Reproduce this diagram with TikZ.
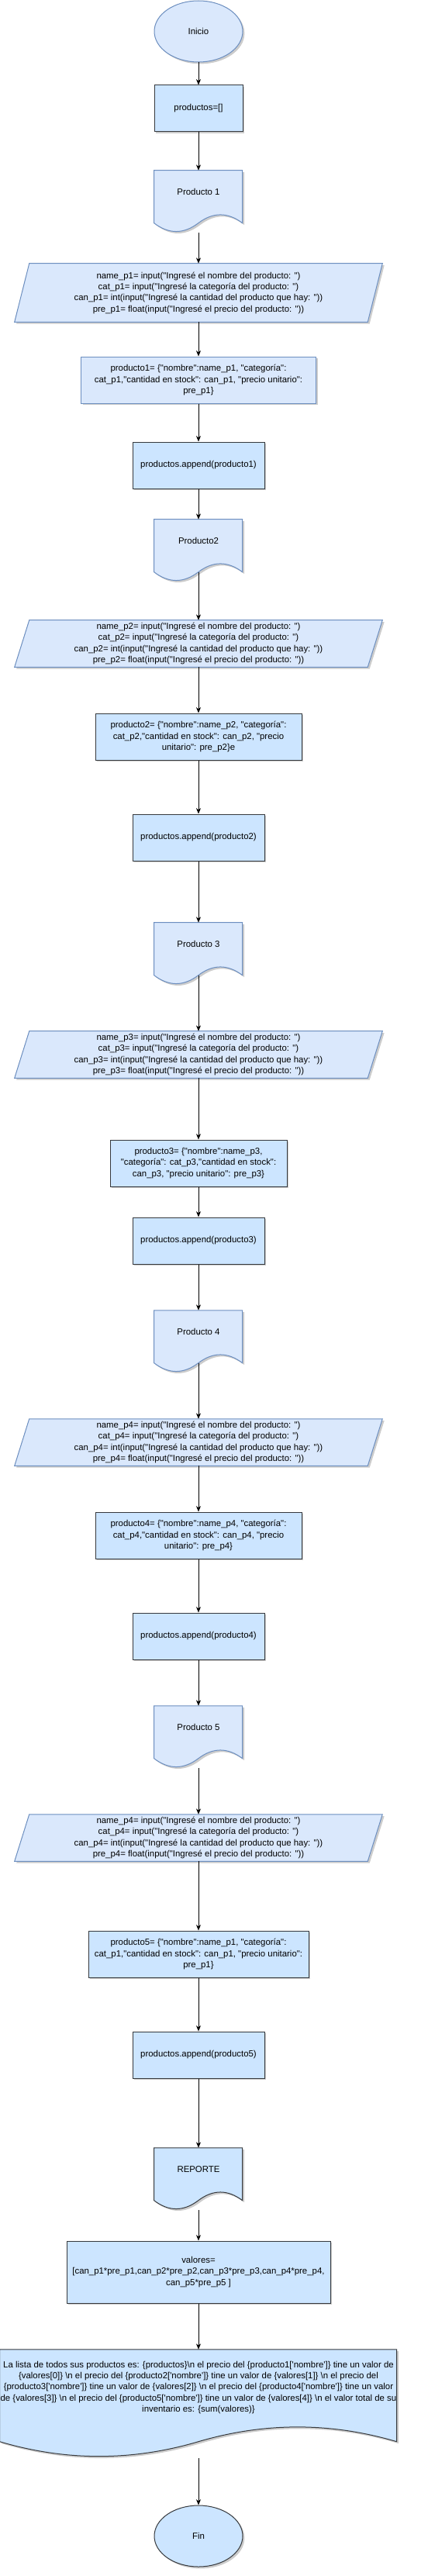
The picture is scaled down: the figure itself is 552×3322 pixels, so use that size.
\documentclass[tikz,border=0pt]{standalone}
\usepackage{fontspec}
\newfontfamily\dfont{Liberation Sans}[Ligatures=TeXOff]
\usetikzlibrary{shapes.geometric,arrows.meta,calc,shadows}
\pgfdeclarelayer{bg}
\pgfsetlayers{bg,main}
\definecolor{lfill}{HTML}{DAE8FC}
\definecolor{lline}{HTML}{6C8EBF}
\definecolor{dfill}{HTML}{CCE5FF}
\definecolor{dline}{HTML}{36393D}
\tikzset{
  shad/.style={drop shadow={shadow xshift=1.8pt,shadow yshift=-1.8pt,opacity=0.2,fill=black}},
  lightsty/.style={fill=lfill,draw=lline,line width=0.75pt,shad},
  darksty/.style={fill=dfill,draw=dline,line width=0.75pt,shad},
  txt/.style={font=\dfont\fontsize{8.55pt}{10.75pt}\selectfont,text=black,align=center,inner sep=0pt},
  box/.style={txt,rectangle,minimum height=45pt},
  oval/.style={txt,ellipse,minimum width=85.5pt,minimum height=59.25pt},
  ghost/.style={txt,rectangle},
  arr/.style={-{Stealth[length=5.5pt,width=4.5pt,inset=1.6pt]},line width=0.75pt,black},
}
\newcommand\docpath[4]{\path[#4,shift={(#1.north west)}] (0,0) -- (#2,0) -- (#2,{-0.85*#3})
  .. controls ({0.8333*#2},{-0.67*#3}) and ({0.6667*#2},{-0.67*#3}) .. ({0.5*#2},{-0.85*#3})
  .. controls ({0.3333*#2},{-1.03*#3}) and ({0.1667*#2},{-1.03*#3}) .. (0,{-0.85*#3}) -- cycle;}
\newcommand\parapath[2]{\path[#2] ($(#1.north west)+(19,0)$) -- (#1.north east) -- ($(#1.south east)+(-19,0)$) -- (#1.south west) -- cycle;}
\newcommand\askinput[1]{name\_p#1= input("Ingresé el nombre del producto: ")\\cat\_p#1= input("Ingresé la categoría del producto: ")\\can\_p#1= int(input("Ingresé la cantidad del producto que hay: "))\\pre\_p#1= float(input("Ingresé el precio del producto: "))}
\begin{document}
\begin{tikzpicture}[x=0.75pt,y=0.75pt]
\useasboundingbox (0,0) rectangle (552,-3322);
% nodes
\node[oval,lightsty] (ini) at (256,-40.5) {Inicio};
\node[box,darksty,minimum width=85.5pt] (init) at (256,-140) {productos=[]};
\node[ghost,minimum width=85.5pt,minimum height=60pt] (p1) at (256,-260) {};
\node[txt] (p1l) at ($(p1.north)+(0,-28)$) {Producto 1};
\node[ghost,minimum width=355.5pt,minimum height=56.25pt] (in1) at (256,-377.5) {\askinput{1}};
\node[box,lightsty,minimum width=227.25pt] (d1) at (256,-490) {producto1= \{"nombre":name\_p1, "categoría":\\cat\_p1,"cantidad en stock": can\_p1, "precio unitario":\\pre\_p1\}};
\node[box,darksty,minimum width=127.5pt] (a1) at (256,-600) {productos.append(producto1)};
\node[ghost,minimum width=85.5pt,minimum height=60pt] (p2) at (256,-710) {};
\node[txt] (p2l) at ($(p2.north)+(0,-28)$) {Producto2};
\coordinate (p2w) at ($(p2.south)+(0,12)$);
\node[ghost,minimum width=355.5pt,minimum height=45pt] (in2) at (256,-830) {\askinput{2}};
\node[box,darksty,minimum width=199.5pt] (d2) at (256,-950) {producto2= \{"nombre":name\_p2, "categoría":\\cat\_p2,"cantidad en stock": can\_p2, "precio\\unitario": pre\_p2\}e};
\node[box,darksty,minimum width=127.5pt] (a2) at (256,-1080) {productos.append(producto2)};
\node[ghost,minimum width=85.5pt,minimum height=60pt] (p3) at (256,-1230) {};
\node[txt] (p3l) at ($(p3.north)+(0,-28)$) {Producto 3};
\coordinate (p3w) at ($(p3.south)+(0,12)$);
\node[ghost,minimum width=355.5pt,minimum height=45pt] (in3) at (256,-1360) {\askinput{3}};
\node[box,darksty,minimum width=171pt] (d3) at (256,-1500) {producto3= \{"nombre":name\_p3,\\"categoría": cat\_p3,"cantidad en stock":\\can\_p3, "precio unitario": pre\_p3\}};
\node[box,darksty,minimum width=127.5pt] (a3) at (256,-1600) {productos.append(producto3)};
\node[ghost,minimum width=85.5pt,minimum height=60pt] (p4) at (256,-1730) {};
\node[txt] (p4l) at ($(p4.north)+(0,-28)$) {Producto 4};
\coordinate (p4w) at ($(p4.south)+(0,12)$);
\node[ghost,minimum width=355.5pt,minimum height=45pt] (in4) at (256,-1860) {\askinput{4}};
\node[box,darksty,minimum width=199.5pt] (d4) at (256,-1980) {producto4= \{"nombre":name\_p4, "categoría":\\cat\_p4,"cantidad en stock": can\_p4, "precio\\unitario": pre\_p4\}};
\node[box,darksty,minimum width=127.5pt] (a4) at (256,-2110) {productos.append(producto4)};
\node[ghost,minimum width=85.5pt,minimum height=60pt] (p5) at (256,-2240) {};
\node[txt] (p5l) at ($(p5.north)+(0,-28)$) {Producto 5};
\node[ghost,minimum width=355.5pt,minimum height=45pt] (in5) at (256,-2370) {\askinput{4}};
\node[box,darksty,minimum width=213pt] (d5) at (256,-2520) {producto5= \{"nombre":name\_p1, "categoría":\\cat\_p1,"cantidad en stock": can\_p1, "precio unitario":\\pre\_p1\}};
\node[box,darksty,minimum width=127.5pt] (a5) at (256,-2650) {productos.append(producto5)};
\node[ghost,minimum width=85.5pt,minimum height=60pt] (rep) at (256,-2810) {};
\node[txt] (repl) at ($(rep.north)+(0,-28)$) {REPORTE};
\node[box,darksty,minimum width=255pt,minimum height=60pt] (val) at (256,-2930) {valores=\\{[}can\_p1*pre\_p1,can\_p2*pre\_p2,can\_p3*pre\_p3,can\_p4*pre\_p4,\\can\_p5*pre\_p5 ]};
\node[ghost,minimum width=384pt,minimum height=105pt] (out) at (256,-3100) {};
\node[txt] (outl) at ($(out.north)+(0,-49)$) {La lista de todos sus productos es: \{productos\}\textbackslash n el precio del \{producto1['nombre']\} tine un valor de\\\{valores[0]\} \textbackslash n el precio del \{producto2['nombre']\} tine un valor de \{valores[1]\} \textbackslash n el precio del\\\{producto3['nombre']\} tine un valor de \{valores[2]\} \textbackslash n el precio del \{producto4['nombre']\} tine un valor\\de \{valores[3]\} \textbackslash n el precio del \{producto5['nombre']\} tine un valor de \{valores[4]\} \textbackslash n el valor total de su\\inventario es: \{sum(valores)\}};
\node[oval,darksty] (fin) at (256,-3270.5) {Fin};
% custom outlines
\begin{pgfonlayer}{bg}
\docpath{p1}{114}{80}{lightsty}
\docpath{p2}{114}{80}{lightsty}
\docpath{p3}{114}{80}{lightsty}
\docpath{p4}{114}{80}{lightsty}
\docpath{p5}{114}{80}{lightsty}
\docpath{rep}{114}{80}{darksty}
\docpath{out}{512}{140}{darksty}
\parapath{in1}{lightsty}
\parapath{in2}{lightsty}
\parapath{in3}{lightsty}
\parapath{in4}{lightsty}
\parapath{in5}{lightsty}
\end{pgfonlayer}
% connectors
\draw[arr] (ini) -- (init);
\draw[arr] (init) -- (p1);
\draw[arr] (p1) -- (in1);
\draw[arr] (in1) -- (d1);
\draw[arr] (d1) -- (a1);
\draw[arr] (a1) -- (p2);
\draw[arr] (p2w) -- (in2);
\draw[arr] (in2) -- (d2);
\draw[arr] (d2) -- (a2);
\draw[arr] (a2) -- (p3);
\draw[arr] (p3w) -- (in3);
\draw[arr] (in3) -- (d3);
\draw[arr] (d3) -- (a3);
\draw[arr] (a3) -- (p4);
\draw[arr] (p4w) -- (in4);
\draw[arr] (in4) -- (d4);
\draw[arr] (d4) -- (a4);
\draw[arr] (a4) -- (p5);
\draw[arr] (p5) -- (in5);
\draw[arr] (in5) -- (d5);
\draw[arr] (d5) -- (a5);
\draw[arr] (a5) -- (rep);
\draw[arr] (rep) -- (val);
\draw[arr] (val) -- (out);
\draw[arr] (out) -- (fin);
\end{tikzpicture}
\end{document}
